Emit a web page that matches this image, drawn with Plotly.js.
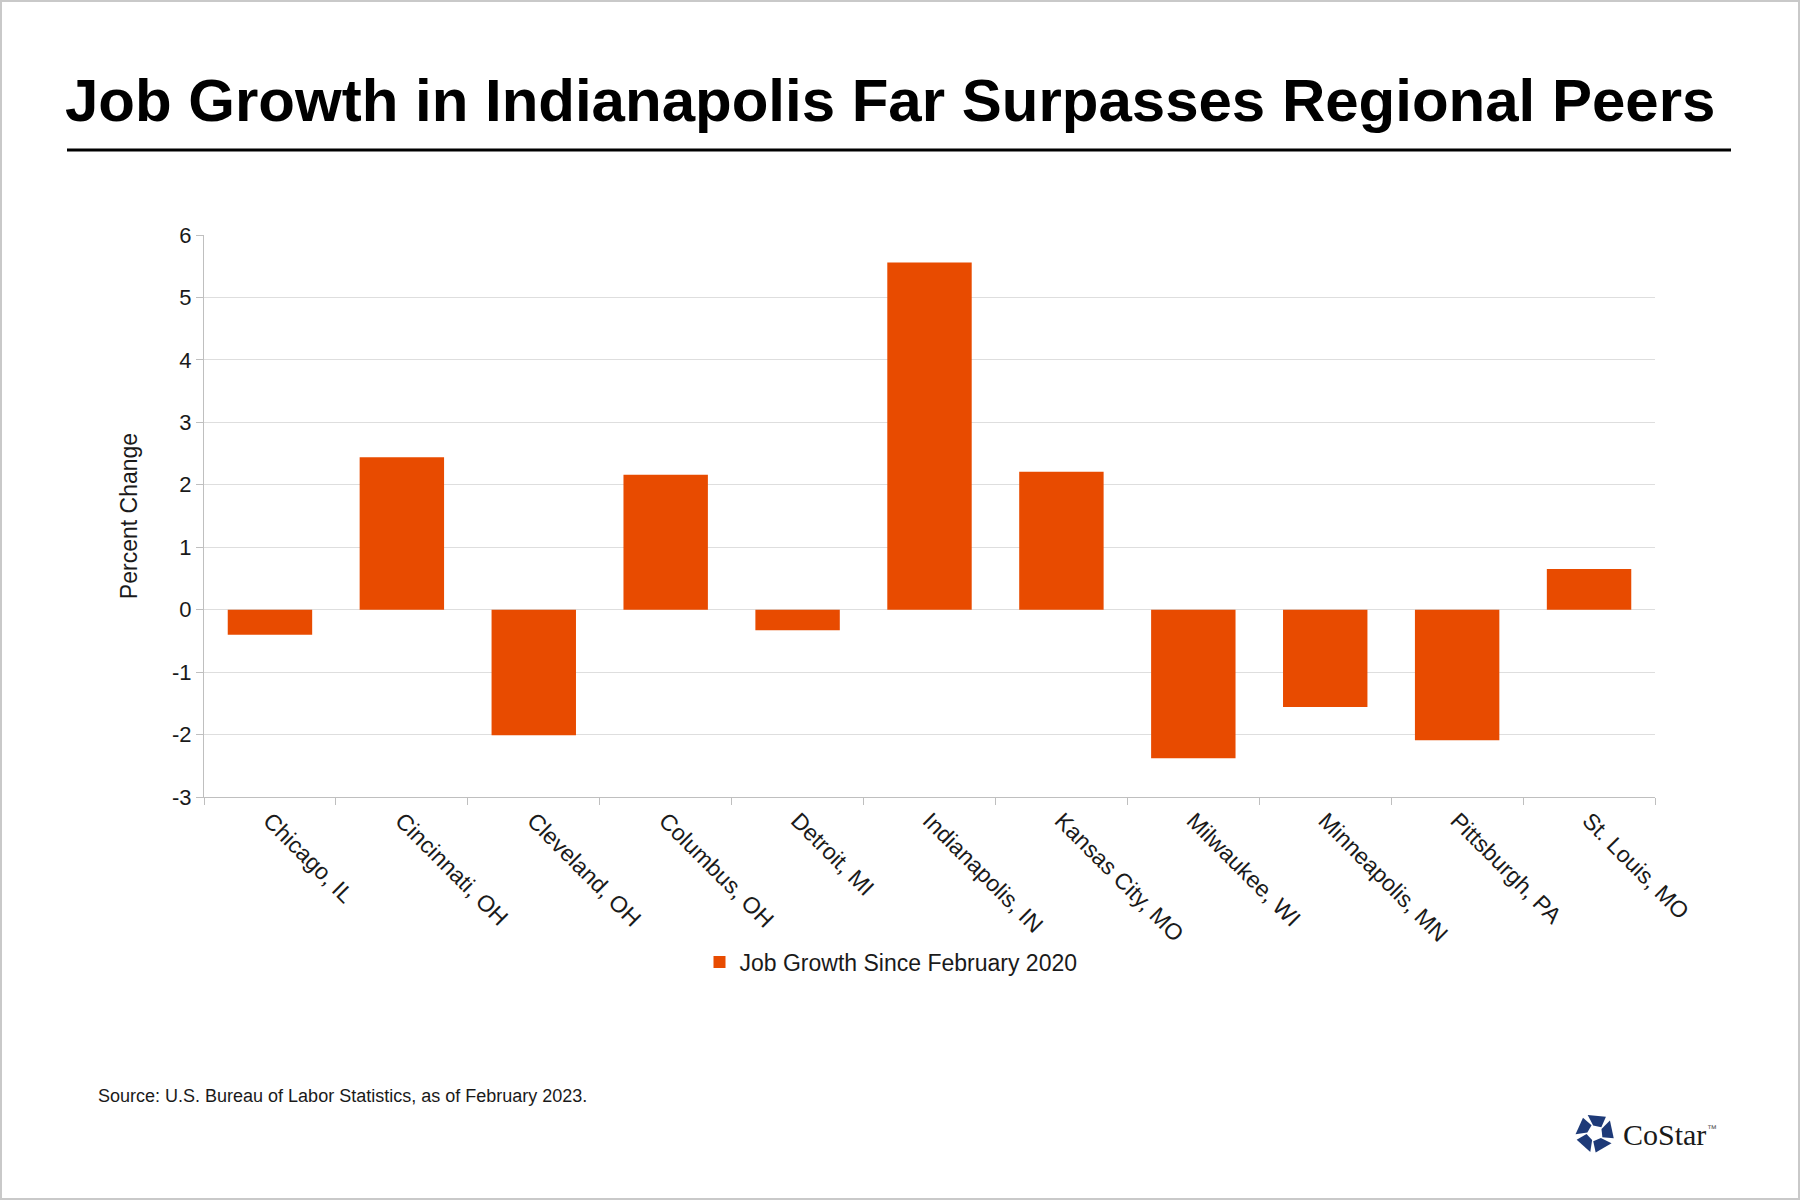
<!DOCTYPE html>
<html>
<head>
<meta charset="utf-8">
<script src="https://cdn.plot.ly/plotly-3.0.1.min.js"></script>
<style>
  html, body { margin: 0; padding: 0; background: #ffffff; }
  #wrap { position: relative; width: 1800px; height: 1200px; }
  #chart { width: 1800px; height: 1200px; }
  #frame { position: absolute; left: 0; top: 0; width: 1800px; height: 1200px;
           box-sizing: border-box; border: 2px solid #c9c9c9; pointer-events: none; }
</style>
</head>
<body>
<div id="wrap"><div id="chart"></div><div id="frame"></div></div>
<script>
// ---- data ----
const cities = ["Chicago, IL", "Cincinnati, OH", "Cleveland, OH", "Columbus, OH", "Detroit, MI",
                "Indianapolis, IN", "Kansas City, MO", "Milwaukee, WI", "Minneapolis, MN",
                "Pittsburgh, PA", "St. Louis, MO"];
const jobGrowth = [-0.40, 2.44, -2.01, 2.16, -0.33, 5.56, 2.21, -2.38, -1.56, -2.09, 0.65];
const seriesName = "Job Growth Since February 2020";
const yTicks = [-3, -2, -1, 0, 1, 2, 3, 4, 5, 6];
const chartTitle = "Job Growth in Indianapolis Far Surpasses Regional Peers";
const yTitle = "Percent Change";
const sourceText = "Source: U.S. Bureau of Labor Statistics, as of February 2023.";

// ---- layout geometry ----
const W = 1800, H = 1200;
const M = { l: 204, r: 145, t: 235, b: 403 };
const PW = W - M.l - M.r, PH = H - M.t - M.b;
const px = X => (X - M.l) / PW;          // pixel x -> paper x
const py = Y => (H - M.b - Y) / PH;      // pixel y -> paper y
const FONT = "Liberation Sans, Arial, Helvetica, sans-serif";
const ORANGE = "#e84b00";

// CoStar logo icon: pinwheel of five pieces
const logoShapes = [];
const cx = 1595, cy = 1133, R = 19.5, r = 8.5;
function pt(rad, deg) {
  const a = deg * Math.PI / 180;
  return [px(cx + rad * Math.cos(a)), py(cy + rad * Math.sin(a))];
}
for (let k = 0; k < 5; k++) {
  const a0 = -112 + 72 * k;
  const p = [pt(R, a0), pt(R, a0 + 56), pt(r, a0 + 70), pt(r * 0.9, a0 + 8)];
  logoShapes.push({
    type: "path", xref: "paper", yref: "paper",
    path: "M" + p.map(q => q[0] + "," + q[1]).join("L") + "Z",
    fillcolor: "#1e3a78", line: { width: 0 }
  });
}

const data = [{
  type: "bar",
  x: cities,
  y: jobGrowth,
  name: seriesName,
  marker: { color: ORANGE },
  showlegend: true,
  hoverinfo: "x+y"
}];

const layout = {
  width: W, height: H,
  margin: M,
  paper_bgcolor: "#ffffff",
  plot_bgcolor: "#ffffff",
  font: { family: FONT, color: "#1a1a1a" },
  title: {
    text: chartTitle,
    font: { family: FONT, size: 60, weight: 700, color: "#000000" },
    xref: "container", yref: "container",
    x: 65 / W, xanchor: "left",
    y: 1 - 100 / H, yanchor: "middle"
  },
  bargap: 0.36,
  xaxis: {
    type: "category",
    range: [-0.5, cities.length - 0.5],
    showline: true, linecolor: "#bfbfbf", linewidth: 1,
    ticks: "outside", tickson: "boundaries", ticklen: 7, tickcolor: "#bfbfbf",
    tickangle: 45,
    tickfont: { family: FONT, size: 23, color: "#1a1a1a" },
    showgrid: false, zeroline: false, fixedrange: true
  },
  yaxis: {
    range: [-3, 6],
    tickvals: yTicks,
    ticktext: yTicks.map(String),
    showline: true, linecolor: "#bfbfbf", linewidth: 1,
    ticks: "outside", ticklen: 7, tickcolor: "#bfbfbf",
    tickfont: { family: FONT, size: 22, color: "#1a1a1a" },
    showgrid: true, gridcolor: "#dedede", gridwidth: 1,
    zeroline: false, fixedrange: true,
    title: { text: yTitle, font: { family: FONT, size: 23, color: "#1a1a1a" }, standoff: 27 }
  },
  showlegend: true,
  legend: {
    orientation: "h",
    x: px(891), xanchor: "center",
    y: py(962), yanchor: "middle",
    font: { family: FONT, size: 23, color: "#1a1a1a" },
    itemwidth: 30,
    bgcolor: "rgba(0,0,0,0)"
  },
  shapes: [
    { type: "line", xref: "paper", yref: "paper",
      x0: px(67), x1: px(1731), y0: py(150), y1: py(150),
      line: { color: "#000000", width: 3 } }
  ].concat(logoShapes),
  annotations: [
    { text: sourceText, xref: "paper", yref: "paper",
      x: px(96), y: py(1096), xanchor: "left", yanchor: "middle",
      showarrow: false, font: { family: FONT, size: 18, color: "#1a1a1a" } },
    { text: "CoStar", xref: "paper", yref: "paper",
      x: px(1621), y: py(1134), xanchor: "left", yanchor: "middle",
      showarrow: false, font: { family: "Liberation Serif, Times New Roman, serif", size: 30, color: "#1a1a1a" } },
    { text: "™", xref: "paper", yref: "paper",
      x: px(1705), y: py(1128), xanchor: "left", yanchor: "middle",
      showarrow: false, font: { family: FONT, size: 10, color: "#555555" } }
  ]
};

Plotly.newPlot("chart", data, layout, { displayModeBar: false, staticPlot: true });
</script>
</body>
</html>
